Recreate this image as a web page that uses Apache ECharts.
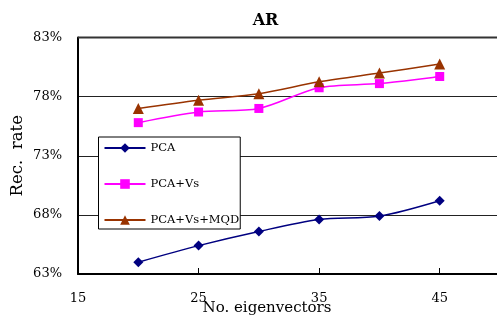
<!DOCTYPE html>
<html>
<head>
<meta charset="utf-8">
<script src="https://cdn.jsdelivr.net/npm/echarts@6/dist/echarts.min.js"></script>
<style>
  html, body { margin: 0; padding: 0; background: #fff; }
  #chart { width: 497px; height: 323px; }
</style>
</head>
<body>
<div id="chart"></div>
<script>
// eigenvector counts on the x axis
const eigenCounts = [20, 25, 30, 35, 40, 45];
// recognition rate (%) per method
const pcaRate = [64.0, 65.4, 66.6, 67.6, 67.9, 69.2];
const pcaVsRate = [75.8, 76.7, 77.0, 78.75, 79.1, 79.7];
const pcaVsMqdRate = [77.0, 77.7, 78.25, 79.25, 80.0, 80.75];
const yTicks = [63, 68, 73, 78, 83];

const font = 'DejaVu Serif';
const chart = echarts.init(document.getElementById('chart'));

const toPairs = (vals) => eigenCounts.map((x, i) => [x, vals[i]]);

const lineSeries = (name, vals, color, symbol, size) => ({
    name: name,
    type: 'line',
    data: toPairs(vals),
    smooth: 0.3,
    symbol: symbol,
    symbolSize: size,
    lineStyle: { color: color, width: 1.5 },
    itemStyle: { color: color },
    emphasis: { disabled: true }
});

const option = {
    animation: false,
    backgroundColor: '#fff',
    grid: { left: 78, top: 37.5, width: 422, height: 236.5, outerBoundsMode: 'none', containLabel: false },
    legend: {
        orient: 'vertical',
        left: 98.5,
        top: 137,
        padding: [5, 1, 3, 5],
        itemWidth: 41,
        itemHeight: 12,
        itemGap: 24,
        backgroundColor: '#fff',
        borderColor: '#000',
        borderWidth: 1,
        borderRadius: 0,
        textStyle: { fontFamily: font, fontSize: 11.5, color: '#000' },
        data: ['PCA', 'PCA+Vs', 'PCA+Vs+MQD']
    },
    xAxis: {
        type: 'value',
        min: 15,
        max: 50,
        interval: 10,
        axisLine: { lineStyle: { color: '#000', width: 2 } },
        axisTick: { inside: true, length: 6, lineStyle: { color: '#000' } },
        axisLabel: {
            fontFamily: font, fontSize: 13, color: '#000', margin: 18,
            showMaxLabel: false
        },
        splitLine: { show: false }
    },
    yAxis: {
        type: 'value',
        min: 63,
        max: 83,
        name: 'Rec.  rate',
        nameLocation: 'middle',
        nameGap: 52,
        nameRotate: 90,
        nameMoveOverlap: false,
        nameTextStyle: { fontFamily: font, fontSize: 16.5, color: '#000' },
        axisLine: { show: true, lineStyle: { color: '#000', width: 2 } },
        axisTick: { show: false, customValues: yTicks },
        axisLabel: {
            customValues: yTicks,
            fontFamily: font, fontSize: 13, color: '#000', margin: 16,
            formatter: (v) => v + '%'
        },
        splitLine: { show: true, lineStyle: { color: '#222', width: 1 } }
    },
    graphic: [
        {
            type: 'line',
            shape: { x1: 78, y1: 37.5, x2: 497, y2: 37.5 },
            style: { stroke: '#333', lineWidth: 2 },
            z: 10
        },
        {
            type: 'text',
            x: 265.5,
            y: 13,
            style: {
                text: 'AR',
                fontFamily: font,
                fontSize: 16,
                fontWeight: 'bold',
                fill: '#000',
                align: 'center'
            }
        },
        {
            type: 'text',
            x: 267,
            y: 301,
            style: {
                text: 'No. eigenvectors',
                fontFamily: font,
                fontSize: 15,
                fill: '#000',
                align: 'center'
            }
        }
    ],
    series: [
        lineSeries('PCA', pcaRate, '#000080', 'diamond', 10),
        lineSeries('PCA+Vs', pcaVsRate, '#FF00FF', 'rect', 9),
        lineSeries('PCA+Vs+MQD', pcaVsMqdRate, '#993300', 'triangle', 11)
    ]
};

chart.setOption(option);
</script>
</body>
</html>
